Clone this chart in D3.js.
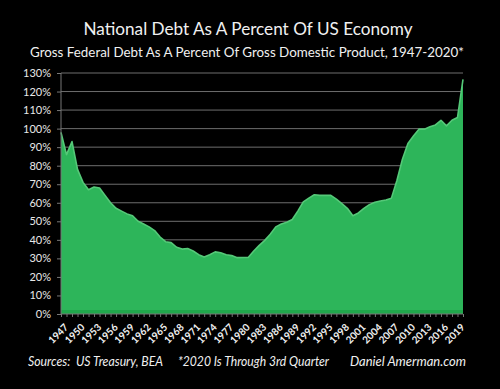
<!DOCTYPE html>
<html>
<head>
    <title>National Debt As A Percent Of US Economy</title>
    <script src="https://d3js.org/d3.v7.min.js"></script>
    <style>
        body { margin: 0; background: #000; }
        text { font-family: Lato, "Open Sans", sans-serif; fill: #f0f0f0; }
        .grid line { stroke: #6e6e6e; stroke-width: 1px; }
        .axis path, .axis line { stroke: #777; }
    </style>
</head>
<body>
    <script>
        // Gross federal debt as % of GDP
        const years = d3.range(1947, 2021);
        const debtPct = [
            98, 86, 93, 78, 71, 67, 68.5, 68, 64, 60,
            57, 55.5, 54, 53, 50, 48.5, 47, 45, 41.5, 39,
            38.5, 36, 35, 35.3, 34, 32, 30.8, 32, 33.5, 33,
            32, 31.5, 30.4, 30.5, 30.5, 34, 37, 39.7, 43, 47,
            48.5, 49.5, 51, 55.5, 60.5, 62.5, 64.3, 64, 64, 64,
            62, 59.5, 57, 53, 54.5, 57, 59, 60.3, 61, 61.5,
            62.5, 72, 83.5, 92, 96, 99.7, 99.7, 101, 102, 104.5,
            101.5, 104.5, 106, 126.5
        ];
        const yTicks = d3.range(0, 131, 10);
        const xLabelYears = d3.range(1947, 2020, 3);

        const data = years.map((y, i) => ({ year: y, value: debtPct[i] }));

        const W = 500, H = 389;
        const margin = { top: 73, right: 37, bottom: 75, left: 61 };
        const width = W - margin.left - margin.right;
        const height = H - margin.top - margin.bottom;

        const svg = d3.select("body").append("svg")
            .attr("width", W)
            .attr("height", H)
            .style("background", "#000");

        // titles
        svg.append("text")
            .attr("x", 248).attr("y", 35)
            .attr("text-anchor", "middle")
            .style("font-size", "17.5px")
            .attr("textLength", 329)
            .attr("lengthAdjust", "spacingAndGlyphs")
            .text("National Debt As A Percent Of US Economy");

        svg.append("text")
            .attr("x", 247).attr("y", 57)
            .attr("text-anchor", "middle")
            .style("font-size", "13.8px")
            .attr("textLength", 434)
            .attr("lengthAdjust", "spacingAndGlyphs")
            .text("Gross Federal Debt As A Percent Of Gross Domestic Product, 1947-2020*");

        const g = svg.append("g")
            .attr("transform", `translate(${margin.left},${margin.top})`);

        const x = d3.scaleLinear()
            .domain([1947, 2020])
            .range([0, width]);

        const y = d3.scaleLinear()
            .domain([0, 130])
            .range([height, 0]);

        // gridlines
        g.append("g")
            .attr("class", "grid")
            .selectAll("line")
            .data(yTicks.filter(d => d > 0))
            .join("line")
            .attr("x1", 0)
            .attr("x2", width)
            .attr("y1", d => y(d))
            .attr("y2", d => y(d));

        // area
        const area = d3.area()
            .x(d => x(d.year))
            .y0(height)
            .y1(d => y(d.value));

        const line = d3.line()
            .x(d => x(d.year))
            .y(d => y(d.value));

        g.append("path")
            .datum(data)
            .attr("d", area)
            .attr("fill", "#2db55a");

        // lighter rim along the top edge
        g.append("path")
            .datum(data)
            .attr("d", line)
            .attr("fill", "none")
            .attr("stroke", "#55c878")
            .attr("stroke-width", 1.6)
            .attr("stroke-linejoin", "round");

        // darker strip at the bottom
        g.append("rect")
            .attr("x", 0)
            .attr("y", height - 4)
            .attr("width", width)
            .attr("height", 4)
            .attr("fill", "#20a84c");

        // y axis
        const yAxis = g.append("g")
            .attr("class", "axis")
            .call(d3.axisLeft(y)
                .tickValues(yTicks)
                .tickSize(4)
                .tickPadding(6)
                .tickFormat(d => d + "%"));
        yAxis.select(".domain").attr("d", `M0,0V${height}`);
        yAxis.selectAll("text").style("font-size", "11px").style("fill", "#e8e8e8");

        // x axis: small ticks every year, labels every 3 years
        const xAxis = g.append("g")
            .attr("class", "axis")
            .attr("transform", `translate(0,${height})`)
            .call(d3.axisBottom(x)
                .tickValues(years)
                .tickSize(3)
                .tickFormat(d => ""));
        xAxis.select(".domain").attr("d", `M0,0H${width}`);

        g.append("g")
            .selectAll("text")
            .data(xLabelYears)
            .join("text")
            .attr("transform", d => `translate(${x(d) + 3},${height + 9}) rotate(-45)`)
            .attr("text-anchor", "end")
            .attr("dy", "0.7em")
            .style("font-size", "10px")
            .style("font-weight", "bold")
            .text(d => d);

        // footer
        const foot = svg.append("g")
            .style("font-style", "italic")
            .style("font-size", "13.5px");
        const footer = [
            { x: 28, w: 135, t: "Sources:  US Treasury, BEA" },
            { x: 178, w: 151, t: "*2020 Is Through 3rd Quarter" },
            { x: 350, w: 116, t: "Daniel Amerman.com" }
        ];
        foot.selectAll("text")
            .data(footer)
            .join("text")
            .attr("x", d => d.x)
            .attr("y", 366)
            .attr("textLength", d => d.w)
            .attr("lengthAdjust", "spacingAndGlyphs")
            .style("white-space", "pre")
            .text(d => d.t);
    </script>
</body>
</html>
